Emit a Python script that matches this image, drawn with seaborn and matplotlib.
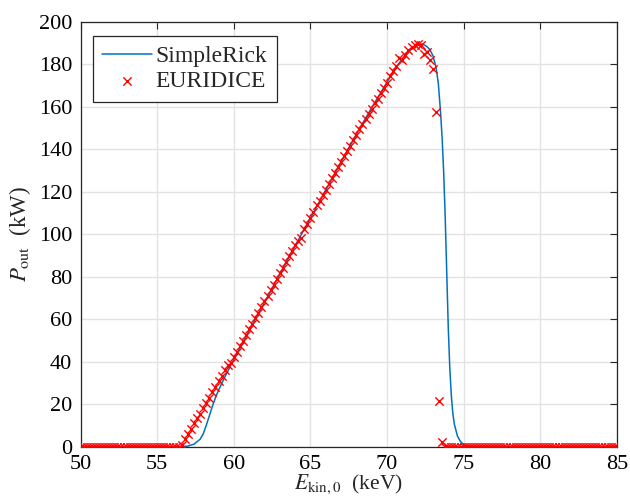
import numpy as np
import pandas as pd
import matplotlib
matplotlib.use("Agg")
import matplotlib.pyplot as plt
import seaborn as sns

# ---- data ----
sr_x = [50.0, 56.5, 57.0, 57.4, 57.8, 58.0, 58.2, 58.4, 58.6, 58.8, 59.0, 59.2, 59.4,
        59.6, 59.8, 60.0, 61.0, 62.0, 63.0, 64.0, 65.0, 66.0, 67.0, 68.0, 69.0, 69.5,
        70.0, 70.5, 71.0, 71.5, 72.0, 72.3, 72.6, 72.8, 73.0, 73.2, 73.35, 73.5, 73.6,
        73.7, 73.8, 73.9, 74.0, 74.1, 74.2, 74.3, 74.4, 74.6, 74.8, 75.0, 75.3, 75.6, 85.0]
sr_y = [0.0, 0.0, 0.3, 1.2, 3.5, 6.0, 10.0, 14.5, 19.0, 23.0, 26.5, 29.6, 32.6,
        35.4, 38.2, 41.0, 54.5, 67.8, 81.2, 94.5, 107.5, 120.8, 134.0, 147.0, 159.5, 165.5,
        171.5, 177.5, 182.5, 186.5, 189.0, 189.5, 188.3, 186.8, 184.0, 178.5, 171.0, 157.0, 145.0,
        129.0, 108.0, 82.0, 56.0, 37.0, 24.0, 15.5, 10.5, 5.0, 2.4, 1.0, 0.2, 0.0, 0.0]

eu_x = np.round(np.arange(50.0, 85.0001, 0.2), 1)
eu_y = [
    # 50.0 - 56.4
    0, 0, 0, 0, 0, 0, 0, 0, 0, 0, 0, 0, 0, 0, 0, 0, 0, 0, 0, 0, 0, 0, 0, 0, 0, 0, 0, 0, 0, 0, 0, 0, 0,
    # 56.6 - 59.8
    1.0, 3.5, 6.0, 8.5, 11.0, 13.3, 15.6, 18.0, 20.5, 23.0, 25.6, 28.2, 30.8, 33.4, 36.0, 38.6, 39.5,
    # 60.0 - 63.8
    42.0, 44.6, 47.3, 49.9, 52.6, 55.2, 57.8, 60.5, 63.1, 65.8, 68.4, 71.0, 73.7, 76.3, 79.0, 81.6,
    84.2, 86.9, 89.5, 92.2,
    # 64.0 - 67.8
    94.8, 97.0, 98.3, 102.5, 105.0, 107.6, 110.3, 113.5, 115.8, 118.4, 121.0, 123.6, 126.2, 128.8,
    131.5, 134.0, 136.6, 139.2, 141.7, 144.2,
    # 68.0 - 71.8
    146.8, 149.3, 151.8, 154.3, 156.7, 159.1, 161.5, 163.8, 166.2, 168.6, 171.2, 174.5, 177.0,
    179.2, 183.0, 181.8, 184.5, 186.8, 188.2, 189.0,
    # 72.0 - 73.6
    189.4, 189.2, 185.0, 185.6, 182.0, 177.5, 157.5, 21.5, 2.4,
    # 73.8 - 85.0
    0, 0, 0, 0, 0, 0, 0, 0, 0, 0, 0, 0, 0, 0, 0, 0, 0, 0, 0, 0, 0, 0, 0, 0, 0, 0, 0, 0, 0, 0,
    0, 0, 0, 0, 0, 0, 0, 0, 0, 0, 0, 0, 0, 0, 0, 0, 0, 0, 0, 0, 0, 0, 0, 0, 0, 0, 0,
]

x_ticks = [50, 55, 60, 65, 70, 75, 80, 85]
y_ticks = [0, 20, 40, 60, 80, 100, 120, 140, 160, 180, 200]

sr = pd.DataFrame({"x": sr_x, "y": sr_y})
eu = pd.DataFrame({"x": eu_x, "y": eu_y})

sns.set_theme(style="whitegrid")
plt.rcParams["font.family"] = ["Liberation Serif", "DejaVu Serif"]
plt.rcParams["mathtext.fontset"] = "stix"

fig = plt.figure(figsize=(6.3, 4.96), dpi=100)
ax = fig.add_axes([0.128, 0.0994, 0.851, 0.857])

sns.lineplot(data=sr, x="x", y="y", ax=ax, color="#0072BD", linewidth=1.1,
             label="SimpleRick", sort=False, estimator=None)
sns.scatterplot(data=eu, x="x", y="y", ax=ax, color="red", marker="x", s=36,
                linewidth=1.0, label="EURIDICE", zorder=3)

ax.set_xlim(50, 85)
ax.set_ylim(0, 200)
ax.set_xticks(x_ticks)
ax.set_yticks(y_ticks)
ax.tick_params(axis="both", labelsize=16, direction="in", length=5, width=0.8,
               colors="#262626", top=True, right=True, pad=6)
for lab in ax.get_xticklabels() + ax.get_yticklabels():
    lab.set_color("black")
ax.grid(True, color="#e3e3e3", linewidth=1.0)
for s in ax.spines.values():
    s.set_color("#262626")
    s.set_linewidth(0.9)

ax.set_xlabel(r"$E_{\rm kin,0}$  (keV)", fontsize=15.5, labelpad=-1)
ax.set_ylabel(r"$P_{\rm out}$  (kW)", fontsize=16.5, labelpad=4)

leg = ax.legend(loc="upper left", bbox_to_anchor=(0.023, 0.966), borderaxespad=0,
                fontsize=17, frameon=True, fancybox=False, framealpha=1,
                edgecolor="#262626", handlelength=2.1, borderpad=0.4,
                labelspacing=0.15, handletextpad=0.15)
leg.get_frame().set_linewidth(0.9)

fig.savefig("out.png", dpi=100)
